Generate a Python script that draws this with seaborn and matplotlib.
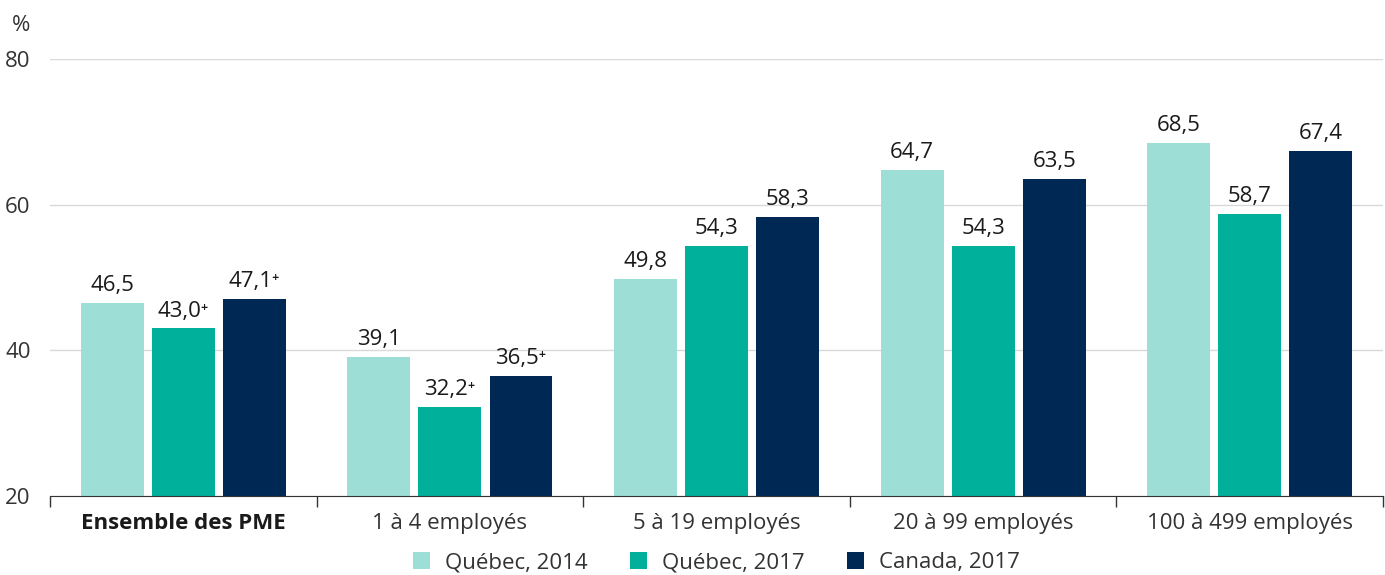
import pandas as pd
import matplotlib.pyplot as plt
import seaborn as sns

categories = ["Ensemble des PME", "1 à 4 employés", "5 à 19 employés",
              "20 à 99 employés", "100 à 499 employés"]
series = ["Québec, 2014", "Québec, 2017", "Canada, 2017"]
quebec_2014 = [46.5, 39.1, 49.8, 64.7, 68.5]
quebec_2017 = [43.0, 32.2, 54.3, 54.3, 58.7]
canada_2017 = [47.1, 36.5, 58.3, 63.5, 67.4]
# "+" marks the values flagged in the source
flag_2014 = [False, False, False, False, False]
flag_q2017 = [True, True, False, False, False]
flag_c2017 = [True, True, False, False, False]

colors = ["#9ddfd6", "#00b09b", "#002855"]

df = pd.DataFrame({
    "cat": categories * 3,
    "serie": [s for s in series for _ in categories],
    "val": quebec_2014 + quebec_2017 + canada_2017,
})
flags = [flag_2014, flag_q2017, flag_c2017]

sns.set_style("white")
plt.rcParams['font.family'] = ['Open Sans', 'DejaVu Sans']

fig = plt.figure(figsize=(13.85, 5.75), dpi=100)
ax = fig.add_axes([0.0361, 0.1374, 0.9625, 0.76])

sns.barplot(ax=ax, data=df, x="cat", y="val", hue="serie", palette=colors,
            width=0.8, gap=0.115, saturation=1, legend=True, linewidth=0)

def fmt(v, f):
    s = f"{v:.1f}".replace(".", ",")
    return s + ("⁺" if f else "")

for cont, vals, fl in zip(ax.containers, [quebec_2014, quebec_2017, canada_2017], flags):
    ax.bar_label(cont, labels=[fmt(v, f) for v, f in zip(vals, fl)],
                 padding=5, fontsize=16, color="#1a1a1a")

ax.set_ylim(20, 80)
ax.set_xlim(-0.5, 4.5)
ax.set_yticks([20, 40, 60, 80])
ax.yaxis.grid(True, color="#d9d9d9", linewidth=1)
ax.set_axisbelow(True)
for s in ["top", "right", "left"]:
    ax.spines[s].set_visible(False)
ax.spines["bottom"].set_color("#333333")
ax.set_xlabel("")
ax.set_ylabel("")
ax.tick_params(axis="x", which="major", bottom=True, length=0, pad=12, labelsize=16, labelcolor="#333333")
ax.tick_params(axis="y", length=0, pad=14, labelsize=16, labelcolor="#333333")
ax.set_xticks([-0.5, 0.5, 1.5, 2.5, 3.5, 4.5], minor=True)
ax.tick_params(axis="x", which="minor", bottom=True, length=8, width=1, color="#333333", direction="out")
ax.get_xticklabels()[0].set_fontweight("bold")
ax.get_xticklabels()[0].set_color("#1a1a1a")

fig.text(0.0087, 0.955, "%", fontsize=16, color="#333333", va="center")

ax.legend(loc="upper center", bbox_to_anchor=(0.5, -0.103), ncol=3, frameon=False,
          fontsize=16, handlelength=0.75, handleheight=0.75, handletextpad=0.7,
          columnspacing=1.9, labelcolor="#333333", borderpad=0)

fig.savefig("out.png", dpi=100)
